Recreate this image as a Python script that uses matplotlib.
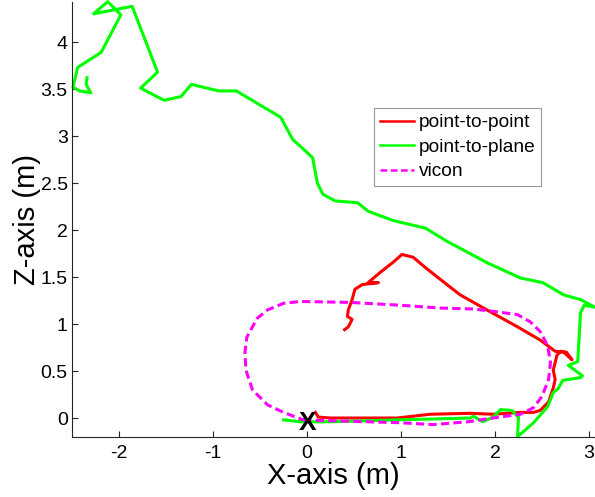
import matplotlib
matplotlib.use('Agg')
import matplotlib.pyplot as plt
from matplotlib.ticker import FuncFormatter

plt.rcParams['font.family'] = ['Liberation Sans', 'DejaVu Sans']

# 轨迹数据 (米)
# point-to-point
p2p_x = [0.09, 0.12, 0.25, 0.96, 1.31, 1.74, 1.98, 2.27, 2.41, 2.48, 2.57, 2.62,
         2.64, 2.62, 2.66, 2.70, 2.76, 2.82, 2.73, 2.64, 2.48, 2.24, 1.95, 1.63,
         1.45, 1.26, 1.13, 1.01, 0.92, 0.78, 0.65, 0.76, 0.59, 0.51, 0.48, 0.44,
         0.43, 0.48, 0.44, 0.40]
p2p_z = [0.06, 0.01, 0.00, 0.00, 0.04, 0.05, 0.04, 0.06, 0.06, 0.08, 0.17, 0.32,
         0.41, 0.51, 0.67, 0.71, 0.70, 0.62, 0.70, 0.71, 0.83, 0.97, 1.13, 1.31,
         1.45, 1.60, 1.71, 1.74, 1.66, 1.55, 1.44, 1.44, 1.42, 1.37, 1.26, 1.15,
         1.08, 1.05, 0.97, 0.94]

# point-to-plane
p2pl_x = [-0.25, -0.07, 0.25, 0.96, 1.74, 1.77, 1.87, 1.98, 2.06, 2.18, 2.25, 2.24,
          2.41, 2.56, 2.62, 2.67, 2.72, 2.91, 2.93, 2.78, 2.88, 2.91, 2.95, 3.06,
          2.91, 2.73, 2.51, 2.27, 1.92, 1.49, 1.26, 0.92, 0.65, 0.54, 0.30, 0.17,
          0.11, 0.06, -0.07, -0.15, -0.28, -0.50, -0.75, -0.94, -1.23, -1.34, -1.52,
          -1.77, -1.59, -1.86, -2.27, -2.12, -1.98, -2.19, -2.44, -2.49, -2.42,
          -2.30, -2.35, -2.34]
p2pl_z = [-0.02, -0.04, -0.04, -0.02, 0.00, 0.02, -0.04, 0.01, 0.09, 0.08, 0.01, -0.20,
          -0.05, 0.12, 0.27, 0.31, 0.40, 0.43, 0.45, 0.56, 0.60, 1.12, 1.20, 1.18,
          1.26, 1.31, 1.44, 1.49, 1.65, 1.88, 2.02, 2.10, 2.20, 2.29, 2.31, 2.38,
          2.50, 2.77, 2.89, 2.96, 3.20, 3.33, 3.48, 3.48, 3.55, 3.42, 3.38,
          3.51, 3.68, 4.38, 4.30, 4.43, 4.29, 3.89, 3.73, 3.52, 3.48,
          3.46, 3.55, 3.62]

# vicon 真值
vicon_x = [-0.04, 0.64, 0.99, 1.34, 1.71, 1.98, 2.27, 2.41, 2.50, 2.57, 2.59, 2.56,
           2.48, 2.38, 2.24, 2.02, 1.77, 1.42, 0.99, 0.46, -0.07, -0.25, -0.42,
           -0.53, -0.58, -0.64, -0.66, -0.65, -0.58, -0.42, -0.25, -0.04]
vicon_z = [-0.02, -0.04, -0.05, -0.07, -0.04, 0.00, 0.04, 0.11, 0.23, 0.41, 0.59, 0.77,
           0.92, 1.02, 1.10, 1.13, 1.16, 1.17, 1.20, 1.23, 1.24, 1.22, 1.15,
           1.06, 0.97, 0.86, 0.70, 0.51, 0.30, 0.14, 0.06, -0.02]

x_ticks = [-2, -1, 0, 1, 2, 3]
z_ticks = [0, 0.5, 1, 1.5, 2, 2.5, 3, 3.5, 4]


def draw_trajectories():
    fig = plt.figure(figsize=(5.95, 4.97), dpi=100)
    ax = fig.add_axes([72 / 595, 60 / 497, 523 / 595, 435 / 497])

    ax.plot(p2p_x, p2p_z, color='#ff0000', linewidth=2.2, label='point-to-point',
            clip_on=False)
    ax.plot(p2pl_x, p2pl_z, color='#00ff00', linewidth=2.2, label='point-to-plane',
            clip_on=False)
    ax.plot(vicon_x, vicon_z, color='#ff00ff', linewidth=2.2, linestyle='--',
            dashes=(2.7, 1.4), label='vicon', clip_on=False)

    # 起点标记 (基线放在字母高度一半以下)
    ax.text(0.01, -0.13, 'X', ha='center', va='baseline', fontsize=19,
            fontweight='bold', color='black')

    ax.set_xlim(-2.5, 3.064)
    ax.set_ylim(-0.202, 4.426)

    ax.set_xticks(x_ticks)
    ax.set_yticks(z_ticks)
    ax.xaxis.set_major_formatter(FuncFormatter(lambda v, p: '%g' % v))
    ax.yaxis.set_major_formatter(FuncFormatter(lambda v, p: '%g' % v))
    ax.tick_params(direction='in', length=4.5, width=0.8, colors='#262626',
                   labelsize=14, labelcolor='black')
    ax.tick_params(axis='x', pad=6)
    ax.tick_params(axis='y', pad=3)

    for side in ['top', 'right']:
        ax.spines[side].set_visible(False)
    for side in ['left', 'bottom']:
        ax.spines[side].set_color('#262626')
        ax.spines[side].set_linewidth(0.8)

    ax.set_xlabel('X-axis (m)', fontsize=21, labelpad=0)
    ax.set_ylabel('Z-axis (m)', fontsize=21, labelpad=0)

    leg = ax.legend(loc='upper left', bbox_to_anchor=(0.577, 0.756), borderaxespad=0,
                    fontsize=13.8, handlelength=1.8, handletextpad=0.25,
                    labelspacing=0.37, borderpad=0.3, fancybox=False)
    leg.get_frame().set_edgecolor('#808080')
    leg.get_frame().set_linewidth(0.8)
    for line in leg.get_lines():
        line.set_linewidth(1.8)

    fig.savefig('out.png', dpi=100)


if __name__ == '__main__':
    draw_trajectories()
